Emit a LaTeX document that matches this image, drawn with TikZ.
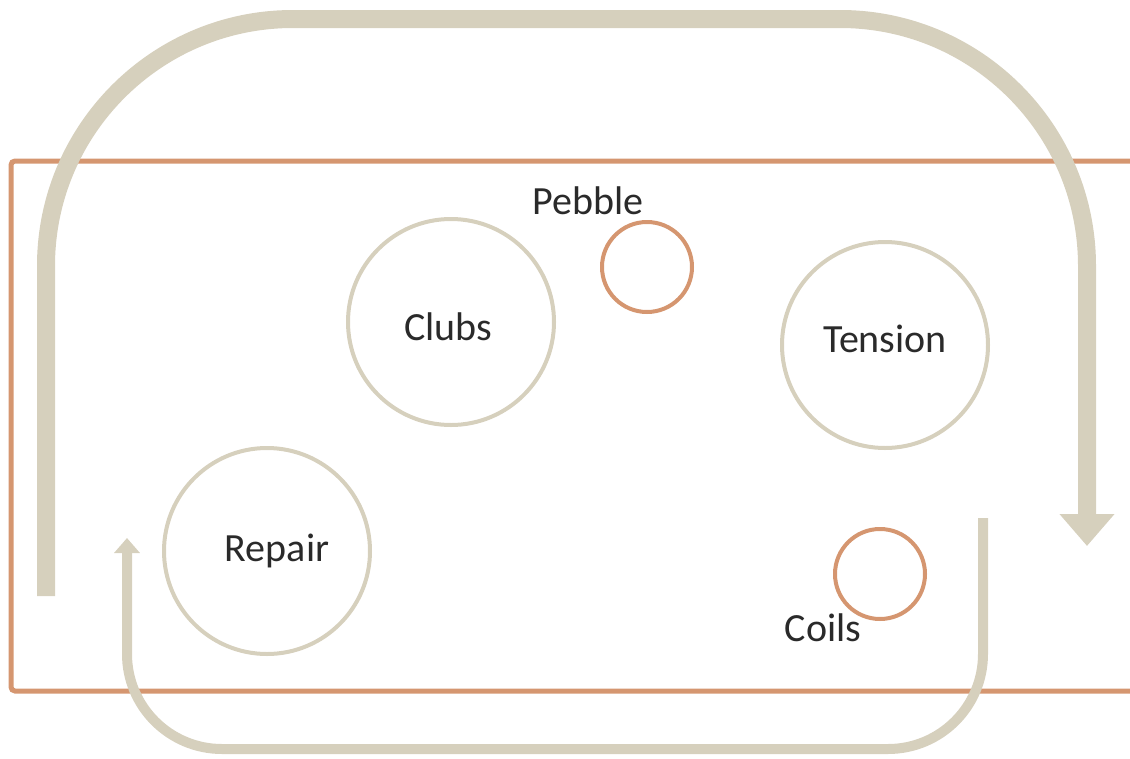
\documentclass[tikz,border=0pt]{standalone}
\usepackage{fontspec}
\setmainfont{Carlito}
\usetikzlibrary{arrows.meta}

\definecolor{sand}{HTML}{D6D0BD}
\definecolor{clay}{HTML}{D59670}
\definecolor{ink}{HTML}{2A2A2A}

\tikzset{
    bigring/.style={draw=sand, line width=4pt, circle, minimum size=206pt, inner sep=0pt},
    smallring/.style={draw=clay, line width=4pt, circle, minimum size=90pt, inner sep=0pt},
    word/.style={text=ink, font=\fontsize{40}{48}\selectfont, inner sep=0pt},
}

\begin{document}
\begin{tikzpicture}[x=1pt, y=-1pt]
            \useasboundingbox (0,0) rectangle (1130,758);

            \coordinate (o1) at (1130,161);
            \coordinate (o2) at (11,161);
            \coordinate (o3) at (11,691);
            \coordinate (o4) at (1130,691);

            \coordinate (a) at (46,596);
            \coordinate (b) at (46,19);
            \coordinate (c) at (1087,19);
            \coordinate (d) at (1087,546);

            \coordinate (e) at (983,518);
            \coordinate (f) at (983,749);
            \coordinate (g) at (127,749);
            \coordinate (h) at (127,538);

            % frame
            \draw[clay, line width=5pt, rounded corners=4pt] (o1)--(o2)--(o3)--(o4);

            % loops
            \draw[sand, line width=18pt, rounded corners=247pt,
                  -{Triangle[length=32pt,width=53pt]}] (a)--(b)--(c)--(d);
            \draw[sand, line width=10pt, rounded corners=95pt,
                  -{Triangle[length=15pt,width=25pt]}] (e)--(f)--(g)--(h);

            \node[bigring] (clubs) at (451,322) {};
            \node[bigring] (tension) at (885,345) {};
            \node[bigring] (repair) at (267,551) {};
            \node[smallring] (pebble) at (647,267) {};
            \node[smallring] (coils) at (880,574) {};

            \node[word] (clubsl) at (448,327) {Clubs};
            \node[word] (tensionl) at (885,339) {Tension};
            \node[word] (repairl) at (277,551) {Repair};
            \node[word] (pebblel) at (588,201) {Pebble};
            \node[word] (coilsl) at (823,628) {Coils};
        \end{tikzpicture}
\end{document}
